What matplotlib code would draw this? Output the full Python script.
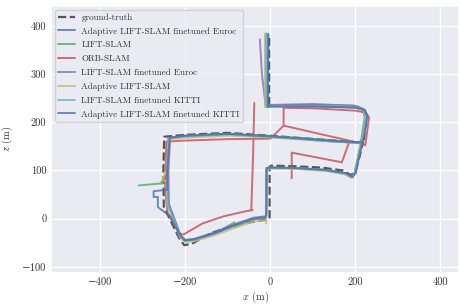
import numpy as np
import matplotlib
matplotlib.use("Agg")
import matplotlib.pyplot as plt
import seaborn as sns

nan = np.nan

# trajectories (x, z) in metres
gt_x = [-3, -3, 0, 100, 205, 222, 226, 220, 212, 150, 60, 0, -100, -200, -250, -252, -251,
        -240, -215, -203, -185, -140, -90, -45, -10, -2, -2, 2, 50, 120, 170, 190, 200, 210, 218]
gt_z = [375, 232, 234, 235, 232, 225, 212, 165, 158, 162, 168, 172, 178, 174, 170, 100, 25,
        5, -40, -55, -52, -30, -15, -7, -2, 0, 108, 110, 109, 106, 100, 90, 100, 130, 160]

ad_euroc_x = [-6, -7, 0, 100, 200, 220, 227, 218, 213, 150, 60, -8, -100, -200, -240, -242, -241,
              -232, -212, -200, -180, -130, -80, -40, -12, -10, -9, 0, 60, 130, 178, 192, 200, 208, 215]
ad_euroc_z = [383, 232, 233, 233, 230, 225, 212, 165, 157, 160, 166, 170, 176, 172, 168, 100, 30,
              10, -35, -45, -43, -30, -12, 0, 3, 8, 105, 106, 105, 101, 94, 86, 95, 130, 157]

lift_x = [-12, -11, 0, 100, 195, 215, 222, 214, 210, 150, 60, -9, -100, -200, -238, -242, -258, -310, nan,
          -258, -245, -240, -232, -212, -200, -180, -130, -85, -85, -70, -40, -12, -10, -9, 0, 60, 130, 175, 188, 198, 206, 212]
lift_z = [383, 232, 234, 236, 235, 227, 212, 165, 158, 162, 168, 172, 176, 172, 167, 100, 73, 69, nan,
          73, 76, 30, 10, -35, -46, -44, -30, -8, -18, -12, -2, 2, 6, 104, 105, 104, 100, 93, 86, 95, 130, 155]

orb_x = [-38, -41, -45, -42, -60, -110, -160, -205, -215, -242, -248, -245, -200, -100, 0, 31, 31, 100, 200,
         225, 232, 223, 215, 120, 31, nan, 50, 50, 168, 184]
orb_z = [240, 130, 20, 18, 15, 5, -10, -33, -30, 12, 60, 160, 162, 165, 166, 193, 230, 229, 224,
         220, 210, 152, 156, 175, 193, nan, 84, 137, 117, 156]

lift_euroc_x = [-25, -20, -11, 0, 100, 200, 218, 224, 216, 211, 150, 60, -8, -100, -200, -236, -240, -239,
                -230, -212, -200, -180, -130, -80, -40, -12, -10, -9, 0, 60, 130, 176, 190, 199, 207, 214]
lift_euroc_z = [372, 300, 232, 236, 238, 234, 228, 212, 165, 158, 161, 167, 171, 175, 171, 167, 100, 30,
                10, -35, -44, -42, -28, -10, 2, 5, 9, 105, 106, 105, 101, 94, 87, 96, 130, 156]

ad_lift_x = [-13, -12, 0, 100, 200, 218, 224, 216, 211, 150, 60, -8, -100, -200, -240, -244, -255, -245, -243,
             -234, -214, -202, -180, -130, -80, -40, -12, -10, -9, 0, 60, 130, 176, 190, 199, 207, 213]
ad_lift_z = [383, 232, 233, 234, 232, 226, 212, 165, 157, 160, 165, 169, 172, 168, 164, 100, 80, 78, 30,
             10, -37, -48, -47, -34, -18, -6, -3, -10, 103, 104, 103, 99, 92, 85, 94, 130, 156]

lift_kitti_x = [-10, -9, 0, 100, 200, 219, 225, 217, 212, 150, 60, -8, -100, -200, -239, -243, -242,
                -233, -213, -201, -180, -130, -80, -40, -12, -10, -9, 0, 60, 130, 177, 191, 200, 208, 214]
lift_kitti_z = [385, 232, 233, 234, 231, 226, 212, 165, 157, 160, 166, 170, 175, 171, 167, 100, 30,
                10, -36, -46, -44, -31, -13, -1, 2, 6, 105, 106, 105, 101, 93, 86, 95, 130, 157]

ad_kitti_x = [-5, -6, 0, 100, 200, 221, 228, 219, 214, 150, 60, -7, -100, -200, -237, -243, -243, -275, -275,
              -265, -265, -236, -214, -202, -180, -130, -80, -40, -12, -10, -9, 0, 60, 130, 179, 193, 201, 209, 216]
ad_kitti_z = [383, 232, 233, 233, 231, 226, 212, 165, 158, 161, 167, 171, 176, 172, 168, 100, 60, 57, 45,
              45, 24, 5, -33, -45, -43, -30, -12, 0, 3, 8, 105, 106, 105, 101, 94, 86, 95, 130, 158]

labels = ["ground-truth", "Adaptive LIFT-SLAM finetuned Euroc", "LIFT-SLAM", "ORB-SLAM",
          "LIFT-SLAM finetuned Euroc", "Adaptive LIFT-SLAM", "LIFT-SLAM finetuned KITTI",
          "Adaptive LIFT-SLAM finetuned KITTI"]

sns.set_theme(style="darkgrid")
plt.rcParams['font.family'] = ['cmr10', 'DejaVu Serif']
plt.rcParams['mathtext.fontset'] = 'cm'
plt.rcParams['axes.formatter.use_mathtext'] = False
plt.rcParams['axes.unicode_minus'] = True

colors = ['#4C72B0', '#55A868', '#C44E52', '#8172B2', '#CCB974', '#64B5CD', '#4C72B0']

fig = plt.figure(figsize=(4.61, 3.06), dpi=100)
ax = fig.add_axes([0.111, 0.109, 0.885, 0.871])

ax.plot(gt_x, gt_z, '--', color='#555555', lw=1.6, label=labels[0], zorder=1)
series = [(ad_euroc_x, ad_euroc_z), (lift_x, lift_z), (orb_x, orb_z), (lift_euroc_x, lift_euroc_z),
          (ad_lift_x, ad_lift_z), (lift_kitti_x, lift_kitti_z), (ad_kitti_x, ad_kitti_z)]
for (xs, zs), c, lab in zip(series, colors, labels[1:]):
    ax.plot(xs, zs, color=c, lw=1.4, alpha=0.8, label=lab)

ax.set_xlim(-516, 444)
ax.set_ylim(-112, 441)
ax.set_xticks([-400, -200, 0, 200, 400])
ax.set_yticks([-100, 0, 100, 200, 300, 400])
ax.tick_params(labelsize=7.5, length=0, pad=3.5, labelcolor='#333333')
ax.set_xlabel('$x$ (m)', fontsize=7.5, labelpad=2, color='#333333')
ax.set_ylabel('$z$ (m)', fontsize=7.5, labelpad=5, color='#333333')
leg = ax.legend(loc='upper left', fontsize=6.5, handlelength=1.8, labelspacing=0.6,
                borderaxespad=0.4, handletextpad=0.75)
for t in leg.get_texts():
    t.set_color('#333333')

fig.savefig('out.png', dpi=100)
